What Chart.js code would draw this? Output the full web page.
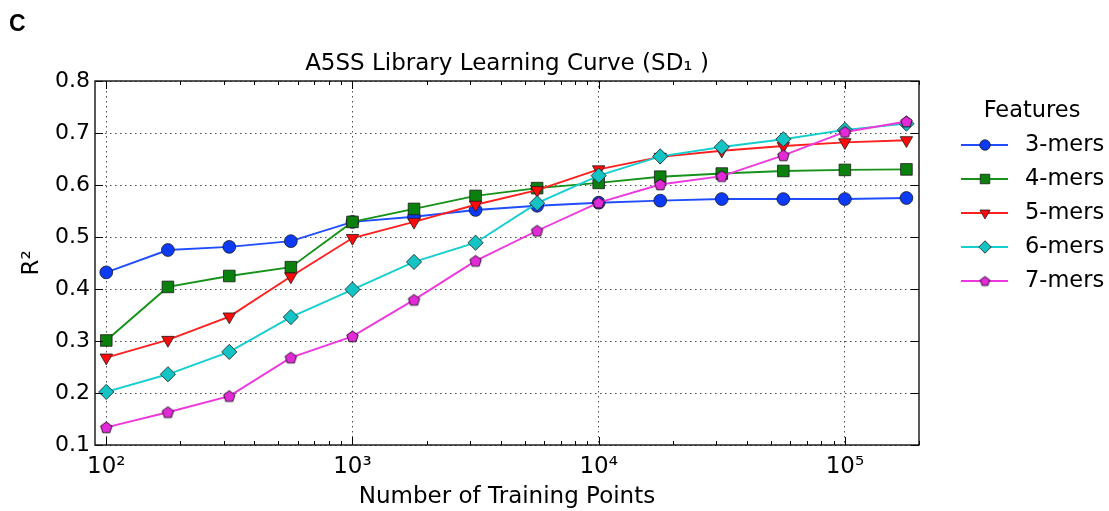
<!DOCTYPE html>
<html>
<head>
<meta charset="utf-8">
<script src="https://cdn.jsdelivr.net/npm/chart.js@4/dist/chart.umd.min.js"></script>
<style>
  html, body { margin: 0; padding: 0; background: #ffffff; }
  canvas { display: block; }
</style>
</head>
<body>
<canvas id="chart" width="1109" height="511"></canvas>
<script>
// Training-set sizes (log-spaced) and R² for each k-mer feature set
const trainingPoints = [100, 178, 316, 562, 1000, 1778, 3162, 5623, 10000, 17783, 31623, 56234, 100000, 177828];
const r2ThreeMers = [0.432, 0.475, 0.481, 0.492, 0.529, 0.539, 0.552, 0.560, 0.566, 0.570, 0.573, 0.573, 0.573, 0.575];
const r2FourMers  = [0.301, 0.404, 0.425, 0.442, 0.529, 0.554, 0.579, 0.594, 0.604, 0.616, 0.622, 0.627, 0.629, 0.630];
const r2FiveMers  = [0.268, 0.302, 0.347, 0.424, 0.498, 0.529, 0.562, 0.590, 0.630, 0.654, 0.666, 0.675, 0.682, 0.686];
const r2SixMers   = [0.202, 0.236, 0.279, 0.346, 0.399, 0.452, 0.489, 0.565, 0.618, 0.655, 0.673, 0.688, 0.706, 0.718];
const r2SevenMers = [0.134, 0.163, 0.194, 0.268, 0.309, 0.379, 0.454, 0.512, 0.566, 0.601, 0.617, 0.657, 0.702, 0.722];

const seriesNames = ['3-mers', '4-mers', '5-mers', '6-mers', '7-mers'];
const xMajorTicks = [100, 1000, 10000, 100000];
const xTickLabels = ['10²', '10³', '10⁴', '10⁵'];
const yTickValues = [0.1, 0.2, 0.3, 0.4, 0.5, 0.6, 0.7, 0.8];
const yTickLabels = ['0.1', '0.2', '0.3', '0.4', '0.5', '0.6', '0.7', '0.8'];

const chartTitle = 'A5SS Library Learning Curve (SD₁ )';
const xAxisTitle = 'Number of Training Points';
const yAxisTitle = 'R²';
const legendTitle = 'Features';
const panelLabel = 'C';

const FONT = "'DejaVu Sans', sans-serif";

// Pentagon marker as a small canvas sprite
function makePentagon(size, r, fill) {
  const c = document.createElement('canvas');
  c.width = size; c.height = size;
  const g = c.getContext('2d');
  g.beginPath();
  for (let i = 0; i < 5; i++) {
    const a = -Math.PI / 2 + i * 2 * Math.PI / 5;
    const px = size / 2 + r * Math.cos(a), py = size / 2 + 0.5 + r * Math.sin(a);
    if (i === 0) g.moveTo(px, py); else g.lineTo(px, py);
  }
  g.closePath();
  g.fillStyle = fill; g.fill();
  g.lineWidth = 0.8; g.strokeStyle = '#000'; g.stroke();
  return c;
}
const pentagon = makePentagon(15, 6.0, '#e22ad6');
const pentagonSmall = makePentagon(13, 5.0, '#e22ad6');

const styles = [
  { line: '#1f4cff', fill: '#0d3bf5', pointStyle: 'circle',   radius: 6.4, rotation: 0, legendStyle: 'circle' },
  { line: '#16921a', fill: '#0a800d', pointStyle: 'rect',     radius: 8.2, rotation: 0, legendStyle: 'rect' },
  { line: '#ff1f1f', fill: '#ff0a0a', pointStyle: 'triangle', radius: 7.2, rotation: 180, legendStyle: 'triangle' },
  { line: '#13cfcf', fill: '#14c4c4', pointStyle: 'rectRot',  radius: 7.6, rotation: 0, legendStyle: 'rectRot' },
  { line: '#ee38de', fill: '#e22ad6', pointStyle: pentagon,   radius: 6,   rotation: 0, legendStyle: pentagonSmall }
];
const seriesValues = [r2ThreeMers, r2FourMers, r2FiveMers, r2SixMers, r2SevenMers];

const datasets = seriesValues.map((vals, i) => ({
  label: seriesNames[i],
  data: trainingPoints.map((x, j) => ({ x: x, y: vals[j] })),
  borderColor: styles[i].line,
  backgroundColor: styles[i].fill,
  borderWidth: 1.9,
  pointStyle: styles[i].pointStyle,
  pointRadius: styles[i].radius,
  pointRotation: styles[i].rotation,
  pointBorderColor: '#1a1a1a',
  pointBorderWidth: 0.8,
  pointBackgroundColor: styles[i].fill,
  tension: 0,
  fill: false,
  order: seriesNames.length - i
}));

// Minor log ticks (2..9 × each decade) inside the axis range
const xMinorTicks = [];
[100, 1000, 10000, 100000].forEach(d => {
  for (let m = 2; m <= 9; m++) { if (m * d <= 200000) xMinorTicks.push(m * d); }
});

// Frame, inward tick marks, panel letter, title and legend
const decorations = {
  id: 'decorations',
  afterDatasetsDraw(chart) {
    const { ctx, chartArea: a, scales } = chart;
    const xs = scales.x, ys = scales.y;
    ctx.save();
    ctx.strokeStyle = '#000';
    ctx.lineWidth = 1;
    ctx.beginPath();
    xMajorTicks.forEach(v => {
      const px = Math.round(xs.getPixelForValue(v)) + 0.5;
      ctx.moveTo(px, a.bottom); ctx.lineTo(px, a.bottom - 8);
      ctx.moveTo(px, a.top); ctx.lineTo(px, a.top + 8);
    });
    xMinorTicks.forEach(v => {
      const px = Math.round(xs.getPixelForValue(v)) + 0.5;
      ctx.moveTo(px, a.bottom); ctx.lineTo(px, a.bottom - 4);
      ctx.moveTo(px, a.top); ctx.lineTo(px, a.top + 4);
    });
    yTickValues.forEach(v => {
      const py = Math.round(ys.getPixelForValue(v)) + 0.5;
      ctx.moveTo(a.left, py); ctx.lineTo(a.left + 8, py);
      ctx.moveTo(a.right, py); ctx.lineTo(a.right - 8, py);
    });
    ctx.stroke();
    ctx.lineWidth = 1.4;
    ctx.strokeStyle = '#111';
    ctx.strokeRect(a.left, a.top, a.right - a.left, a.bottom - a.top);
    ctx.restore();
  },
  afterDraw(chart) {
    const { ctx, chartArea: a } = chart;
    ctx.save();
    ctx.fillStyle = '#000';
    ctx.font = "bold 23px 'Liberation Sans', Arial, sans-serif";
    ctx.textAlign = 'left'; ctx.textBaseline = 'middle';
    ctx.fillText(panelLabel, 9, 25);

    ctx.font = '23px ' + FONT;
    ctx.textAlign = 'center';
    ctx.fillText(chartTitle, (a.left + a.right) / 2, 64);

    // legend
    ctx.font = '22.5px ' + FONT;
    ctx.fillText(legendTitle, 1032, 111);
    const helpers = Chart.helpers;
    seriesNames.forEach((name, i) => {
      const y = 145 + i * 34;
      ctx.strokeStyle = styles[i].line;
      ctx.lineWidth = 1.9;
      ctx.beginPath(); ctx.moveTo(961, y); ctx.lineTo(1008, y); ctx.stroke();
      ctx.fillStyle = styles[i].fill;
      ctx.strokeStyle = '#1a1a1a';
      ctx.lineWidth = 0.8;
      if (helpers && helpers.drawPoint) {
        helpers.drawPoint(ctx, {
          pointStyle: styles[i].legendStyle,
          rotation: styles[i].rotation,
          radius: styles[i].radius * 0.82,
          borderWidth: 0.8
        }, 985, y);
      }
      ctx.fillStyle = '#000';
      ctx.textAlign = 'left';
      ctx.font = '22.5px ' + FONT;
      ctx.fillText(name, 1025, y);
    });
    ctx.restore();
  }
};

new Chart(document.getElementById('chart'), {
  type: 'line',
  data: { datasets: datasets },
  options: {
    responsive: false,
    animation: false,
    devicePixelRatio: 1,
    layout: { padding: { top: 81, right: 190, left: 0, bottom: 0 } },
    plugins: {
      legend: { display: false },
      title: { display: false },
      tooltip: { enabled: false }
    },
    scales: {
      x: {
        type: 'logarithmic',
        min: 90,
        max: 200000,
        afterBuildTicks: s => {
          s.ticks = xMajorTicks.concat(xMinorTicks).sort((p, q) => p - q).map(v => ({ value: v }));
        },
        afterFit: s => { s.height = 66; },
        ticks: {
          autoSkip: false,
          maxRotation: 0,
          padding: 8,
          color: '#000',
          font: { family: FONT, size: 23 },
          callback: v => {
            const k = xMajorTicks.indexOf(v);
            return k >= 0 ? xTickLabels[k] : '';
          }
        },
        grid: {
          drawTicks: false,
          lineWidth: 1,
          color: c => (c.tick && xMajorTicks.indexOf(c.tick.value) >= 0) ? 'rgba(0,0,0,0.7)' : 'rgba(0,0,0,0)'
        },
        border: { display: false, dash: [1.5, 3.5] },
        title: {
          display: true,
          text: xAxisTitle,
          color: '#000',
          font: { family: FONT, size: 23 },
          padding: { top: 0, bottom: 0 }
        }
      },
      y: {
        type: 'linear',
        min: 0.1,
        max: 0.8,
        afterBuildTicks: s => { s.ticks = yTickValues.map(v => ({ value: v })); },
        afterFit: s => { s.width = 95; },
        ticks: {
          padding: 5,
          color: '#000',
          font: { family: FONT, size: 22 },
          callback: (v, i) => yTickLabels[i]
        },
        grid: { drawTicks: false, lineWidth: 1, color: 'rgba(0,0,0,0.7)' },
        border: { display: false, dash: [1.5, 3.5] },
        title: {
          display: true,
          text: yAxisTitle,
          color: '#000',
          font: { family: FONT, size: 23 },
          padding: { top: 18, bottom: 0 }
        }
      }
    }
  },
  plugins: [decorations]
});
</script>
</body>
</html>
